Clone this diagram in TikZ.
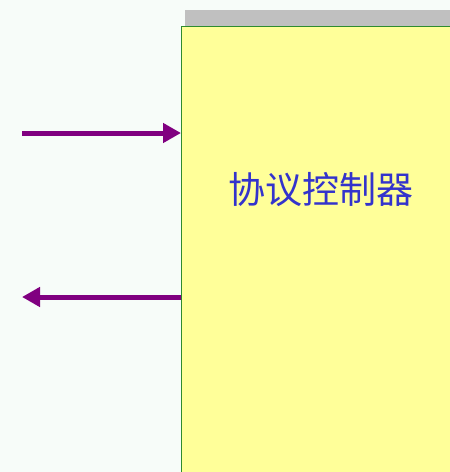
\documentclass[tikz,border=0pt]{standalone}
\usepackage{fontspec}
\newfontfamily\cjk{Noto Sans CJK SC}
\usetikzlibrary{arrows.meta}
\definecolor{bgc}{HTML}{F7FCF9}
\definecolor{barc}{HTML}{C0C0C0}
\definecolor{boxc}{HTML}{FFFF99}
\definecolor{edgec}{HTML}{2E8B2E}
\definecolor{arrc}{HTML}{800080}
\definecolor{txtc}{HTML}{3333CC}
\tikzset{
  flow/.style={draw=arrc, line width=5pt, -{Triangle[length=18pt,width=19pt]}},
  label/.style={font=\cjk\fontsize{37}{42}\selectfont, text=txtc, inner sep=0pt}
}
\begin{document}
\begin{tikzpicture}[x=1pt,y=-1pt]
\useasboundingbox (0,0) rectangle (450,472);
\clip (0,0) rectangle (450,472);
\fill[bgc] (0,0) rectangle (450,472);
\fill[barc] (185,10) rectangle (460,26);
\node[draw=edgec, line width=1pt, fill=boxc, anchor=north west, minimum width=290pt, minimum height=460pt, inner sep=0pt] (box) at (181,26) {};
\node[label] (t) at (321,190) {协议控制器};
\coordinate (inL) at (22,133);
\coordinate (outL) at (22,297);
\draw[flow] (inL) -- (inL -| box.west);
\draw[flow] (outL -| box.west) -- (outL);
\end{tikzpicture}
\end{document}
